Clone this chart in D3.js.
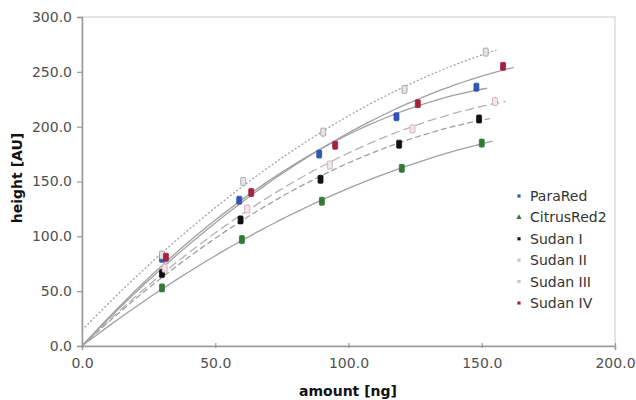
<!DOCTYPE html>
<html>
<head>
<meta charset="utf-8">
<script src="https://cdn.jsdelivr.net/npm/d3@7"></script>
<style>
  body { margin: 0; background: #fff; }
  svg { font-family: "DejaVu Sans", Verdana, sans-serif; }
</style>
</head>
<body>
<div id="chart"></div>
<script>
// series names, as in the legend
const seriesNames = ["ParaRed", "CitrusRed2", "Sudan I", "Sudan II", "Sudan III", "Sudan IV"]

// amount [ng] for each series
const amountParaRed = [30, 59, 89, 118, 148]
const amountCitrusRed2 = [30, 60, 90, 120, 150]
const amountSudanI = [30, 59.5, 89.5, 119, 149]
const amountSudanII = [31, 62, 93, 124, 155]
const amountSudanIII = [30, 60.5, 90.5, 121, 151.5]
const amountSudanIV = [31.5, 63.5, 95, 126, 158]

// height [AU] for each series
const heightParaRed = [80, 133, 175, 209, 236]
const heightCitrusRed2 = [53, 97, 132, 162, 185]
const heightSudanI = [66, 115, 152, 184, 207]
const heightSudanII = [71, 125, 165, 198, 223]
const heightSudanIII = [83, 150, 195, 234, 268]
const heightSudanIV = [81, 140, 183, 221, 255]

// tick labels
const xTicks = [0, 50, 100, 150, 200]
const yTicks = [0, 50, 100, 150, 200, 250, 300]

const width = 636
const height = 400
const margin = { left: 82, right: 21, top: 17, bottom: 54 }

const styles = {
  "ParaRed":    { color: "#2f55b5", stroke: "#2f55b5", dash: null,  fit: "origin" },
  "CitrusRed2": { color: "#2f7a3a", stroke: "#2f7a3a", dash: null,  fit: "origin" },
  "Sudan I":    { color: "#111111", stroke: "#111111", dash: "6,3", fit: "origin" },
  "Sudan II":   { color: "#f3e6e8", stroke: "#c9a3aa", dash: "9,4", fit: "origin" },
  "Sudan III":  { color: "#e4e4e4", stroke: "#999999", dash: "2,2", fit: "full" },
  "Sudan IV":   { color: "#a3223f", stroke: "#a3223f", dash: null,  fit: "origin" }
}

const amounts = [amountParaRed, amountCitrusRed2, amountSudanI, amountSudanII, amountSudanIII, amountSudanIV]
const heights = [heightParaRed, heightCitrusRed2, heightSudanI, heightSudanII, heightSudanIII, heightSudanIV]

const series = seriesNames.map((name, i) => ({
  name,
  points: amounts[i].map((x, j) => ({ x, y: heights[i][j] })),
  ...styles[name]
}))

// least squares fit with the given basis functions (quadratic trendline)
function fit(points, basis) {
  const n = basis.length
  const A = d3.range(n).map(() => d3.range(n + 1).map(() => 0))
  points.forEach(p => {
    const b = basis.map(f => f(p.x))
    for (let r = 0; r < n; r++) {
      for (let c = 0; c < n; c++) A[r][c] += b[r] * b[c]
      A[r][n] += b[r] * p.y
    }
  })
  // gaussian elimination
  for (let r = 0; r < n; r++) {
    for (let k = r + 1; k < n; k++) {
      const f = A[k][r] / A[r][r]
      for (let c = r; c <= n; c++) A[k][c] -= f * A[r][c]
    }
  }
  const coef = new Array(n).fill(0)
  for (let r = n - 1; r >= 0; r--) {
    let s = A[r][n]
    for (let c = r + 1; c < n; c++) s -= A[r][c] * coef[c]
    coef[r] = s / A[r][r]
  }
  return x => basis.reduce((s, f, i) => s + coef[i] * f(x), 0)
}

const xScale = d3.scaleLinear().domain([0, 200]).range([margin.left, width - margin.right])
const yScale = d3.scaleLinear().domain([0, 300]).range([height - margin.bottom, margin.top])

const svg = d3.select("#chart").append("svg")
  .attr("width", width)
  .attr("height", height)

// plot frame (light top/right border)
svg.append("rect")
  .attr("x", xScale(0)).attr("y", yScale(300))
  .attr("width", xScale(200) - xScale(0)).attr("height", yScale(0) - yScale(300))
  .attr("fill", "none").attr("stroke", "#d4d4d4").attr("stroke-width", 1.2)

// axes
const xAxis = d3.axisBottom(xScale).tickValues(xTicks).tickFormat(d3.format(".1f")).tickSize(4).tickPadding(8)
const yAxis = d3.axisLeft(yScale).tickValues(yTicks).tickFormat(d3.format(".1f")).tickSize(5).tickPadding(5)

const gx = svg.append("g").attr("transform", `translate(0 ${yScale(0)})`).call(xAxis)
const gy = svg.append("g").attr("transform", `translate(${xScale(0)} 0)`).call(yAxis)

gx.selectAll(".tick line").attr("y1", -3).attr("y2", 2)
;[gx, gy].forEach(g => {
  g.select(".domain").attr("stroke", "#999").attr("stroke-width", 1.5)
  g.selectAll(".tick line").attr("stroke", "#999").attr("stroke-width", 1.2)
  g.selectAll(".tick text").attr("fill", "#505050").attr("font-size", "14px")
    .attr("font-family", "DejaVu Sans, sans-serif")
})

// axis titles
svg.append("text")
  .attr("x", 348).attr("y", 396)
  .attr("text-anchor", "middle")
  .attr("font-size", "14px").attr("font-weight", "bold").attr("fill", "#111")
  .text("amount [ng]")

svg.append("text")
  .attr("transform", "translate(22 178) rotate(-90)")
  .attr("text-anchor", "middle")
  .attr("font-size", "14px").attr("font-weight", "bold").attr("fill", "#111")
  .text("height [AU]")

// trendlines
const line = d3.line().x(d => xScale(d[0])).y(d => yScale(d[1]))
series.forEach(s => {
  const basis = s.fit === "full"
    ? [x => 1, x => x, x => x * x]
    : [x => x, x => x * x]
  const f = fit(s.points, basis)
  const xEnd = d3.max(s.points, p => p.x) + 4
  const samples = d3.range(0, xEnd + 0.01, xEnd / 60).map(x => [x, f(x)])
  svg.append("path")
    .attr("d", line(samples))
    .attr("fill", "none")
    .attr("stroke", s.name === "Sudan II" ? "#b8b0b2" : "#a0a0a0")
    .attr("stroke-width", 1.3)
    .attr("stroke-dasharray", s.dash)
})

// markers
series.forEach(s => {
  svg.append("g").selectAll("rect")
    .data(s.points)
    .join("rect")
    .attr("x", d => xScale(d.x) - 2.5)
    .attr("y", d => yScale(d.y) - 4)
    .attr("width", 5)
    .attr("height", 8)
    .attr("rx", 1)
    .attr("fill", s.color)
    .attr("stroke", s.stroke)
    .attr("stroke-width", 0.8)
})

// legend
const legend = svg.append("g").attr("transform", "translate(519 196)")
const rows = legend.selectAll("g")
  .data(series)
  .join("g")
  .attr("transform", (d, i) => `translate(0 ${i * 21.4})`)

rows.append("path")
  .attr("d", d => d.name === "CitrusRed2"
    ? d3.symbol(d3.symbolTriangle, 12)()
    : d3.symbol(d3.symbolSquare, 10)())
  .attr("fill", d => d.name === "Sudan II" || d.name === "Sudan III" ? "#c4c4c4" : d.color)

rows.append("text")
  .attr("x", 11)
  .attr("dy", "0.35em")
  .attr("font-size", "14px")
  .attr("fill", "#333")
  .text(d => d.name)
</script>
</body>
</html>
